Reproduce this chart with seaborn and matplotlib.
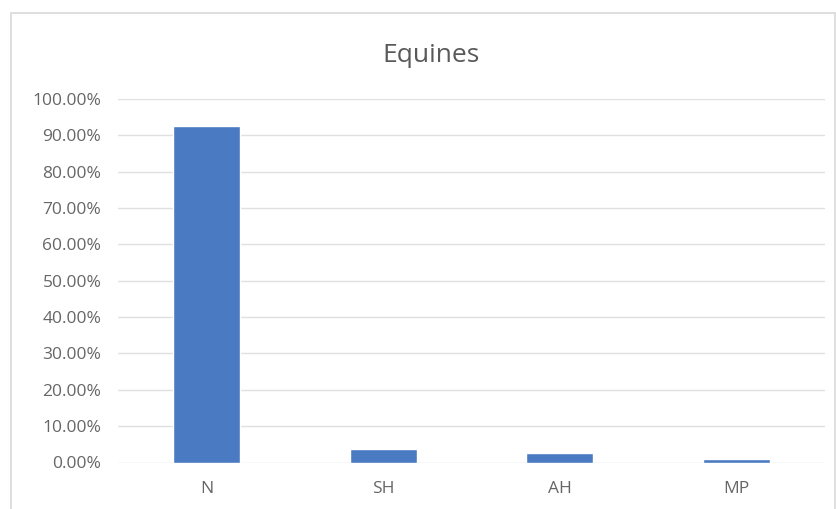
import matplotlib
matplotlib.use("Agg")
import matplotlib.pyplot as plt
from matplotlib.patches import Rectangle
from matplotlib.ticker import FuncFormatter, MultipleLocator
import seaborn as sns
import pandas as pd

categories = ["N", "SH", "AH", "MP"]
shares = [0.926, 0.036, 0.025, 0.011]
title = "Equines"

sns.set_theme(style="white")
plt.rcParams["font.family"] = ["Open Sans", "DejaVu Sans"]

df = pd.DataFrame({"category": categories, "share": shares})

W, H = 837, 509
fig = plt.figure(figsize=(W / 100, H / 100), dpi=100)
ax = fig.add_axes([118 / W, (H - 462.5) / H, (825 - 118) / W, (462.5 - 99) / H])

sns.barplot(data=df, x="category", y="share", color="#4a7ac2", saturation=1,
            width=0.38, ax=ax, zorder=3)

ax.set_ylim(0, 1.0)
ax.set_xlim(-0.5, 3.5)
ax.yaxis.set_major_locator(MultipleLocator(0.1))
ax.yaxis.set_major_formatter(FuncFormatter(lambda v, _: f"{v * 100:.2f}%"))
ax.grid(axis="y", color="#e0e0e0", linewidth=1, zorder=0)
ax.grid(axis="x", visible=False)
for s in ax.spines.values():
    s.set_visible(False)
ax.set_xlabel("")
ax.set_ylabel("")
ax.tick_params(axis="both", length=0, labelsize=12.5, colors="#666666")
ax.tick_params(axis="y", pad=12)
ax.tick_params(axis="x", pad=13)

fig.text(431 / W, (H - 61.5) / H, title, ha="center", va="baseline",
         fontsize=19, color="#595959")

# light frame round the chart area
fig.patches.append(Rectangle((11 / W, -0.01), (835 - 11) / W, (H - 13) / H + 0.01,
                             transform=fig.transFigure, fill=False,
                             edgecolor="#d9d9d9", linewidth=1.2))

fig.savefig("out.png", dpi=100, facecolor="white")
